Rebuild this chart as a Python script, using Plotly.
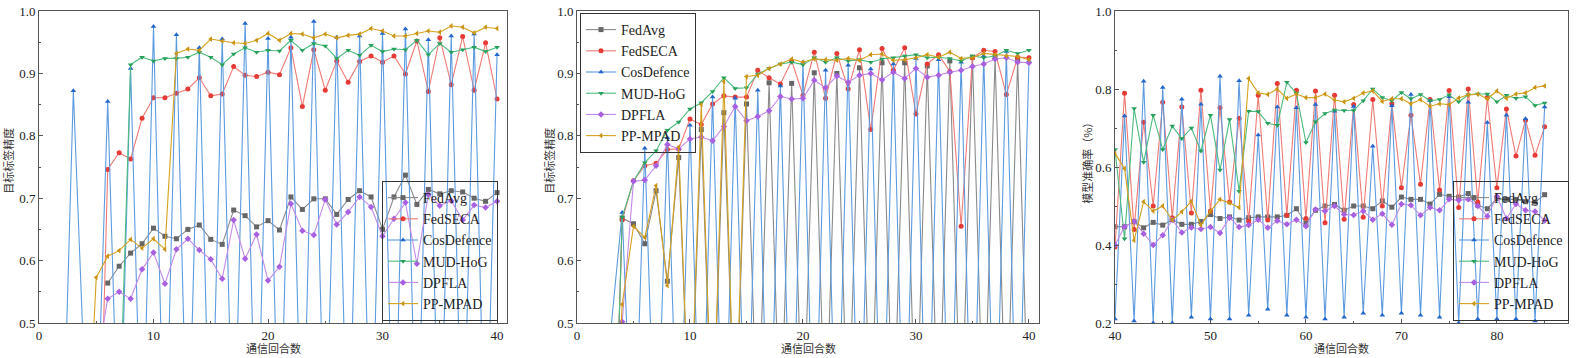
import plotly.graph_objects as go
from plotly.subplots import make_subplots

# ---------------- data ----------------
series_names = ["FedAvg", "FedSECA", "CosDefence", "MUD-HoG", "DPFLA", "PP-MPAD"]
N = None

rounds_a = list(range(1, 41))
fedavg_a = [N]*5 + [0.564,0.591,0.612,0.627,0.652,0.639,0.635,0.650,0.657,0.634,0.626,0.681,0.672,0.654,0.664,0.649,0.702,0.682,0.699,0.699,0.674,0.698,0.712,0.702,0.650,0.702,0.737,0.690,0.714,0.707,0.712,0.710,0.700,0.695,0.709]
fedseca_a = [N]*4 + [0.05] + [0.746,0.773,0.763,0.828,0.861,0.861,0.868,0.875,0.893,0.864,0.867,0.911,0.897,0.895,0.902,0.898,0.941,0.847,0.938,0.873,0.920,0.886,0.919,0.928,0.918,0.928,0.899,0.952,0.871,0.957,0.882,0.959,0.873,0.949,0.859]
cosdef_a = [0.25,0.22,0.872,0.40,0.28,0.855,0.24,0.908,0.23,0.975,0.22,0.962,0.23,0.941,0.22,0.955,0.23,0.980,0.22,0.956,0.23,0.958,0.22,0.983,0.23,0.958,0.22,0.960,0.23,0.964,0.22,0.971,0.23,0.954,0.22,0.960,0.23,0.963,0.22,0.930]
mudhog_a = [N]*6 + [0.32] + [0.914,0.926,0.920,0.924,0.924,0.926,0.934,0.926,0.914,0.931,0.941,0.934,0.937,0.936,0.953,0.937,0.948,0.944,0.924,0.937,0.929,0.945,0.935,0.939,0.938,0.953,0.930,0.948,0.934,0.938,0.942,0.935,0.942]
dpfla_a = [N]*4 + [0.43] + [0.539,0.550,0.539,0.586,0.613,0.563,0.618,0.635,0.617,0.602,0.571,0.665,0.603,0.642,0.568,0.590,0.691,0.648,0.641,0.698,0.658,0.678,0.702,0.686,0.639,0.667,0.693,0.595,0.706,0.688,0.696,0.665,0.689,0.685,0.695]
ppmpad_a = [N]*3 + [0.20] + [0.573,0.607,0.616,0.634,0.620,0.635,0.618,0.932,0.939,0.937,0.955,0.952,0.949,0.948,0.953,0.964,0.953,0.964,0.963,0.957,0.963,0.957,0.961,0.963,0.972,0.968,0.960,0.960,0.964,0.968,0.966,0.976,0.974,0.965,0.974,0.972]

rounds_b = list(range(1, 41))
fedavg_b = [N, N, 0.05, 0.668, 0.659, 0.627, 0.712, 0.567, 0.765, 0.30, 0.81, 0.30, 0.837, 0.30, 0.851, 0.30, 0.885, 0.30, 0.884, 0.30, 0.901, 0.30, 0.900, 0.30, 0.909, 0.30, 0.917, 0.30, 0.917, 0.30, 0.912, 0.30, 0.920, 0.30, 0.926, 0.30, 0.925, 0.30, 0.922, 0.30]
fedseca_b = [N, N, 0.05] + [0.665,0.728,0.752,0.756,0.778,0.779,0.827,0.818,0.851,0.864,0.862,0.862,0.905,0.893,0.883,0.920,0.865,0.934,0.860,0.932,0.875,0.938,0.810,0.940,0.905,0.941,0.835,0.915,0.930,0.903,0.655,0.925,0.937,0.935,0.866,0.926,0.925]
cosdef_b = [N, N, 0.49, 0.677, 0.22, 0.780, 0.22, 0.797, 0.22, 0.817, 0.22, 0.862, 0.22, 0.860, 0.22, 0.873, 0.22, 0.880, 0.22, 0.918, 0.22, 0.905, 0.22, 0.913, 0.22, 0.907, 0.22, 0.915, 0.22, 0.924, 0.22, 0.922, 0.22, 0.918, 0.22, 0.928, 0.22, 0.935, 0.22, 0.920]
mudhog_b = [N, N, 0.05] + [0.670,0.727,0.757,0.776,0.809,0.822,0.843,0.853,0.871,0.893,0.876,0.877,0.899,0.908,0.915,0.918,0.914,0.925,0.918,0.925,0.920,0.922,0.918,0.923,0.925,0.928,0.930,0.925,0.926,0.924,0.920,0.928,0.925,0.928,0.937,0.932,0.937]
dpfla_b = [N, N, N] + [0.502,0.727,0.729,0.752,0.786,0.779,0.795,0.798,0.792,0.815,0.847,0.824,0.831,0.840,0.863,0.859,0.860,0.889,0.877,0.896,0.886,0.897,0.900,0.890,0.902,0.892,0.908,0.894,0.897,0.902,0.905,0.911,0.915,0.923,0.925,0.918,0.917]
ppmpad_b = [N, N, 0.20] + [0.530,0.655,0.637,0.720,0.560,0.782,0.30,0.850,0.30,0.887,0.30,0.895,0.897,0.908,0.915,0.923,0.918,0.923,0.922,0.921,0.924,0.921,0.930,0.931,0.921,0.922,0.925,0.930,0.926,0.934,0.924,0.925,0.932,0.930,0.928,0.927,0.922]

rounds_c = list(range(40, 86))
fedavg_c = [0.447,0.447,0.460,0.444,0.458,0.451,0.465,0.453,0.453,0.460,0.478,0.468,0.472,0.464,0.470,0.472,0.472,0.472,0.476,0.493,0.455,0.489,0.500,0.504,0.489,0.500,0.500,0.493,0.513,0.497,0.523,0.517,0.517,0.505,0.530,0.525,0.523,0.532,0.502,0.493,0.519,0.517,0.517,0.511,0.510,0.529]
fedseca_c = [0.395,0.789,0.440,0.715,0.500,0.766,0.470,0.754,0.482,0.797,0.487,0.752,0.510,0.725,0.461,0.784,0.464,0.814,0.476,0.797,0.468,0.795,0.457,0.784,0.466,0.760,0.471,0.773,0.500,0.762,0.547,0.733,0.556,0.773,0.541,0.796,0.496,0.800,0.510,0.778,0.547,0.749,0.628,0.720,0.630,0.703]
cosdef_c = [0.210,0.731,0.205,0.820,0.200,0.804,0.200,0.774,0.215,0.761,0.210,0.833,0.210,0.821,0.220,0.682,0.235,0.754,0.220,0.752,0.215,0.760,0.210,0.743,0.215,0.755,0.225,0.653,0.220,0.757,0.225,0.786,0.220,0.770,0.215,0.780,0.200,0.766,0.210,0.714,0.210,0.733,0.210,0.724,0.205,0.754]
mudhog_c = [0.645,0.416,0.750,0.612,0.733,0.645,0.705,0.673,0.700,0.641,0.733,0.592,0.722,0.538,0.743,0.742,0.712,0.707,0.817,0.789,0.663,0.716,0.737,0.746,0.745,0.745,0.770,0.800,0.778,0.770,0.791,0.775,0.786,0.770,0.773,0.785,0.767,0.785,0.787,0.787,0.767,0.784,0.776,0.780,0.758,0.764]
dpfla_c = [0.400,0.447,0.460,0.429,0.400,0.425,0.465,0.432,0.445,0.441,0.446,0.431,0.470,0.446,0.451,0.465,0.444,0.462,0.453,0.465,0.448,0.491,0.487,0.500,0.478,0.477,0.487,0.465,0.480,0.452,0.505,0.502,0.476,0.496,0.489,0.517,0.515,0.517,0.500,0.474,0.525,0.468,0.505,0.489,0.486,0.463]
ppmpad_c = [0.635,0.596,0.412,0.511,0.487,0.500,0.464,0.485,0.512,0.451,0.487,0.517,0.508,0.496,0.827,0.790,0.786,0.800,0.776,0.787,0.778,0.778,0.787,0.772,0.767,0.776,0.790,0.795,0.768,0.775,0.775,0.762,0.773,0.756,0.762,0.760,0.777,0.785,0.787,0.775,0.795,0.776,0.787,0.790,0.804,0.808]

x_titles = ["通信回合数", "通信回合数", "通信回合数"]
y_titles = ["目标标签精度", "目标标签精度", "模型准确率（%）"]

# ---------------- styling ----------------
line_colors = ["#8a8a8a", "#f07a74", "#5c9be0", "#4cbb7f", "#c38be8", "#d6a21e"]
marker_colors = ["#666666", "#e53a35", "#2266cc", "#26a05a", "#a85fe0", "#c99313"]
symbols = ["square", "circle", "triangle-up", "triangle-down", "diamond", "triangle-left"]

fig = make_subplots(rows=1, cols=3)

panels = [
    (rounds_a, [fedavg_a, fedseca_a, cosdef_a, mudhog_a, dpfla_a, ppmpad_a], "legend"),
    (rounds_b, [fedavg_b, fedseca_b, cosdef_b, mudhog_b, dpfla_b, ppmpad_b], "legend2"),
    (rounds_c, [fedavg_c, fedseca_c, cosdef_c, mudhog_c, dpfla_c, ppmpad_c], "legend3"),
]

for col, (xs, ys_list, leg) in enumerate(panels, start=1):
    for i, ys in enumerate(ys_list):
        fig.add_trace(go.Scatter(
            x=xs, y=ys, mode="lines+markers", name=series_names[i],
            line=dict(color=line_colors[i], width=1.1),
            marker=dict(symbol=symbols[i], size=5, color=marker_colors[i]),
            legend=leg, connectgaps=False,
        ), row=1, col=col)

L, R, T, B = 39, 23, 11, 35
W, H = 1591, 358
pw = W - L - R
ph = H - T - B
def dom(a, b):
    return [(a - L) / pw, (b - L) / pw]

domains = [dom(39, 507), dom(577, 1039), dom(1115, 1568)]
xranges = [[0, 40.87], [0, 40.89], [40, 87.45]]
yranges = [[0.5, 1.0], [0.5, 1.0], [0.2, 1.0]]
xticks = [[0, 10, 20, 30, 40], [0, 10, 20, 30, 40], [40, 50, 60, 70, 80]]
ydticks = [0.1, 0.1, 0.2]
ytitle_px = [8, 549, 1087]

tickfont = dict(family="Liberation Serif", size=13, color="#222222")
titlefont = dict(family="Noto Sans CJK SC", size=11, color="#333333")

for k in range(3):
    xa = "xaxis" if k == 0 else f"xaxis{k+1}"
    ya = "yaxis" if k == 0 else f"yaxis{k+1}"
    fig.layout[xa].update(
        domain=domains[k], range=xranges[k], tickvals=xticks[k], automargin=False,
        showline=True, mirror=True, linecolor="#555555", linewidth=1,
        ticks="inside", ticklen=4, tickcolor="#555555",
        minor=dict(ticks="inside", ticklen=2, dtick=5, tickcolor="#555555"),
        showgrid=False, zeroline=False, tickfont=tickfont,
    )
    fig.layout[ya].update(
        range=yranges[k], dtick=ydticks[k], tick0=0, tickformat=".1f", automargin=False,
        showline=True, mirror=True, linecolor="#555555", linewidth=1,
        ticks="inside", ticklen=4, tickcolor="#555555",
        minor=dict(ticks="inside", ticklen=2, dtick=ydticks[k] / 2, tickcolor="#555555"),
        showgrid=False, zeroline=False, tickfont=tickfont,
    )
    xd = "x domain" if k == 0 else f"x{k+1} domain"
    fig.add_annotation(text=x_titles[k], xref=xd, x=0.5, yref="paper",
                       y=-(348 - 323) / ph, xanchor="center", yanchor="middle",
                       showarrow=False, font=titlefont)
    fig.add_annotation(text=y_titles[k], xref="paper", x=(ytitle_px[k] - L) / pw,
                       yref="paper", y=0.52, xanchor="center", yanchor="middle",
                       textangle=-90, showarrow=False, font=titlefont)

legfont = dict(family="Liberation Serif", size=14, color="#222222")
common_leg = dict(font=legfont, bgcolor="rgba(0,0,0,0)", bordercolor="#333333",
                  borderwidth=1, itemwidth=30, tracegroupgap=0)

fig.update_layout(
    width=W, height=H,
    margin=dict(l=L, r=R, t=T, b=B, autoexpand=False),
    paper_bgcolor="white", plot_bgcolor="white",
    legend=dict(x=(498 - L) / pw, y=(323 - 321) / ph, xanchor="right", yanchor="bottom", **common_leg),
    legend2=dict(x=(580 - L) / pw, y=(323 - 13) / ph, xanchor="left", yanchor="top", **common_leg),
    legend3=dict(x=(1569 - L) / pw, y=(323 - 321) / ph, xanchor="right", yanchor="bottom", **common_leg),
)

fig.write_html("out.html", config={"displayModeBar": False},
               post_script="document.body.style.margin='0px';document.body.style.overflow='hidden';")
